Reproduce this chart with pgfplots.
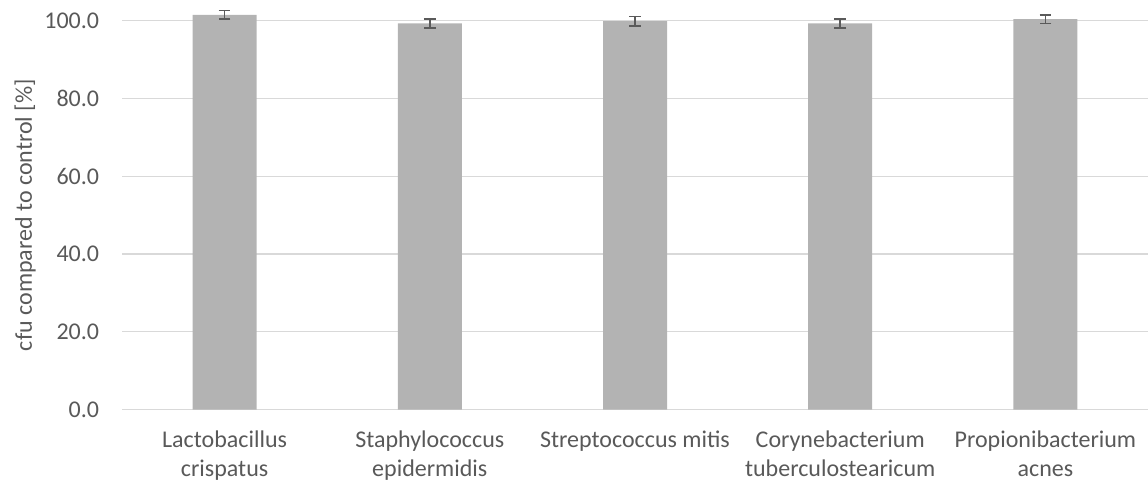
\documentclass[border=0pt]{standalone}
\usepackage{pgfplots}
\pgfplotsset{compat=1.18}
\usepackage{fontspec}
\setmainfont{Carlito}
\definecolor{txt}{HTML}{595959}
\definecolor{barc}{HTML}{B3B3B3}
\definecolor{gridc}{HTML}{D9D9D9}
\definecolor{errc}{HTML}{5A5A5A}
\begin{document}
\begin{tikzpicture}
\begin{axis}[
  at={(91.5pt,55pt)}, anchor=south west,
  scale only axis, width=769.5pt, height=291.75pt,
  xmin=-0.5, xmax=4.5, ymin=0, ymax=100,
  clip=false,
  axis line style={draw=none},
  ytick={0,20,40,60,80,100},
  ymajorgrids, grid style={gridc, line width=0.9pt},
  major tick length=0pt,
  xtick={0,1,2,3,4},
  xticklabels={{Lactobacillus\\crispatus},{Staphylococcus\\epidermidis},{Streptococcus mitis},{Corynebacterium\\tuberculostearicum},{Propionibacterium\\acnes}},
  xticklabel style={align=center, anchor=north, inner sep=0pt, yshift=-16pt, font=\fontsize{18}{21.75}\selectfont, text=txt},
  yticklabel style={anchor=east, inner sep=0pt, xshift=-17pt, font=\fontsize{18}{20}\selectfont, text=txt},
  /pgf/number format/assume math mode=true,
  /pgf/number format/fixed, /pgf/number format/fixed zerofill, /pgf/number format/precision=1,
  ylabel={cfu compared to control [\%]},
  ylabel style={at={(axis description cs:-0.0945,0.5)}, anchor=center, font=\fontsize{18}{20}\selectfont, text=txt},
]
\draw[gridc, line width=0.9pt] (axis cs:-0.5,0) -- (axis cs:4.5,0);
\addplot[ybar, bar width=48pt, fill=barc, draw=none,
  error bars/.cd, y dir=both, y explicit,
  error bar style={errc, line width=1.3pt},
  error mark options={rotate=90, mark size=4.4pt, errc, line width=1.3pt}]
  coordinates {
  (0,101.5) +- (0,1.1)
  (1,99.3) +- (0,1.1)
  (2,99.9) +- (0,1.2)
  (3,99.3) +- (0,1.15)
  (4,100.4) +- (0,1.1)
  };
\end{axis}
\pgfresetboundingbox
\path[use as bounding box] (0,0) rectangle (861pt,362.25pt);
\end{tikzpicture}
\end{document}
